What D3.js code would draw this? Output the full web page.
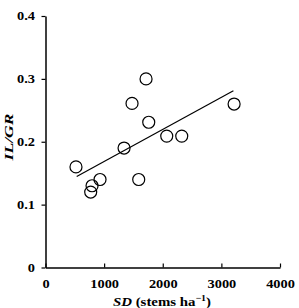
<!DOCTYPE html>
<html><head><meta charset="utf-8">
<script src="https://cdn.jsdelivr.net/npm/d3@7"></script>
<style>body{margin:0;background:#fff;} svg{display:block;}</style>
</head><body>
<script>
const sd = [1715, 1476, 1761, 2068, 2324, 1340, 520, 930, 1590, 794, 771, 3217];
const ilgr = [0.30, 0.261, 0.231, 0.209, 0.209, 0.19, 0.16, 0.14, 0.14, 0.13, 0.12, 0.26];
const trendX = [532, 3205];
const trendSlope = 0.0000511;
const trendIntercept = 0.1174;
const xTicks = [0, 1000, 2000, 3000, 4000];
const yTicks = [0, 0.1, 0.2, 0.3, 0.4];

const W = 299, H = 308;
const svg = d3.select("body").append("svg").attr("width", W).attr("height", H);
const x = d3.scaleLinear().domain([0, 4000]).range([45.5, 280]);
const y = d3.scaleLinear().domain([0, 0.4]).range([267.5, 16]);
const font = "'Liberation Serif', 'Times New Roman', serif";

function stretch(sel, f) {
  sel.each(function () {
    const len = this.getComputedTextLength();
    d3.select(this).attr("textLength", len * f).attr("lengthAdjust", "spacingAndGlyphs");
  });
}

// axes
const xa = svg.append("g").attr("transform", `translate(0,${y(0)})`)
  .call(d3.axisBottom(x).tickValues(xTicks).tickSize(-4).tickSizeOuter(0).tickPadding(12).tickFormat(d3.format("d")));
const ya = svg.append("g").attr("transform", `translate(${x(0)},0)`)
  .call(d3.axisLeft(y).tickValues(yTicks).tickSize(4).tickSizeOuter(0).tickPadding(6.5)
    .tickFormat(d => d === 0 ? "0" : d3.format(".1f")(d)));
[xa, ya].forEach(a => {
  a.select(".domain").attr("stroke", "#000").attr("stroke-width", 1.5);
  a.selectAll(".tick line").attr("stroke", "#000").attr("stroke-width", 1.2);
  a.selectAll("text").attr("font-family", font).attr("font-weight", "bold")
    .attr("font-size", 11.5).attr("fill", "#000");
  stretch(a.selectAll("text"), 1.25);
});

// trend line
svg.append("line")
  .attr("x1", x(trendX[0])).attr("y1", y(trendIntercept + trendSlope * trendX[0]))
  .attr("x2", x(trendX[1])).attr("y2", y(trendIntercept + trendSlope * trendX[1]))
  .attr("stroke", "#000").attr("stroke-width", 1.2);

// points
svg.append("g").selectAll("circle").data(sd.map((d, i) => [d, ilgr[i]])).join("circle")
  .attr("cx", d => x(d[0])).attr("cy", d => y(d[1])).attr("r", 6)
  .attr("fill", "none").attr("stroke", "#000").attr("stroke-width", 1.2);

// y label
const yl = svg.append("text").attr("transform", `translate(13,137) rotate(-90)`)
  .attr("text-anchor", "middle").attr("font-family", font).attr("font-weight", "bold")
  .attr("font-style", "italic").attr("font-size", 13.5).text("IL/GR");
stretch(yl, 1.3);

// x label
const xl = svg.append("text").attr("x", 162).attr("y", 306).attr("text-anchor", "middle")
  .attr("font-family", font).attr("font-weight", "bold").attr("font-size", 13.5);
xl.append("tspan").attr("font-style", "italic").text("SD");
xl.append("tspan").text(" (stems ha");
xl.append("tspan").attr("font-size", 9).attr("dy", -5).text("\u22121");
xl.append("tspan").attr("dy", 5).text(")");
stretch(xl, 1.1);
</script>
</body></html>
